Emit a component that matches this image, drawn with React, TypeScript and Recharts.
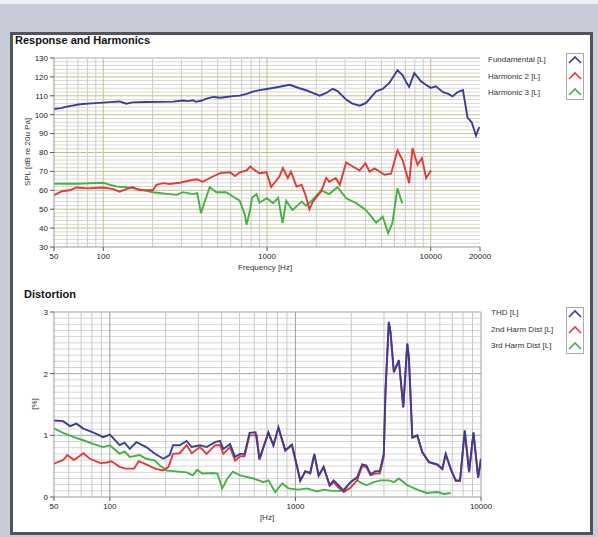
import React from 'react';
import { LineChart, Line, XAxis, YAxis, ReferenceLine } from 'recharts';

// ---------- Response and Harmonics ----------
const fundFreq = [50, 55, 60, 72, 85, 100, 115, 126, 138, 151, 180, 220, 267, 306, 330, 353, 368, 400, 427, 470, 520, 564, 620, 681, 750, 820, 900, 1000, 1150, 1375, 1580, 1750, 1900, 2097, 2300, 2520, 2700, 3045, 3300, 3680, 4030, 4300, 4640, 5090, 5585, 6265, 6730, 7100, 7385, 7940, 8720, 9300, 10000, 10750, 11900, 12800, 13570, 14610, 15730, 16800, 17800, 18900, 19800];
const fundSpl = [103, 103.5, 104.3, 105.5, 106, 106.4, 106.8, 107, 105.8, 106.5, 106.7, 106.8, 106.9, 107.5, 107.2, 107.6, 106.8, 107.5, 108.5, 109.4, 109, 109.4, 109.8, 110.1, 111, 112.2, 113, 113.6, 114.5, 115.8, 114, 112.8, 111.5, 110.1, 111.5, 113.7, 112.5, 108, 106, 104.8, 106.2, 109, 112.4, 113.6, 116.8, 123.5, 121, 117, 114.7, 122, 117.7, 116, 114.2, 115, 111.9, 111, 109.7, 112, 113, 98.3, 96, 88.9, 93.5];

const h2Freq = [50, 56, 62, 69, 80, 100, 115, 126, 138, 151, 167, 201, 211, 233, 254, 293, 337, 372, 406, 447, 516, 595, 638, 681, 750, 790, 830, 900, 994, 1060, 1190, 1250, 1340, 1400, 1515, 1630, 1730, 1815, 1905, 2140, 2300, 2400, 2630, 2780, 3045, 3340, 3680, 3990, 4230, 4540, 5230, 5720, 6265, 6730, 7385, 7740, 8300, 8840, 9370, 10050];
const h2Spl = [57.5, 59.5, 60, 61.5, 61, 61.5, 60.6, 59.3, 60.6, 61.7, 60, 60, 62.9, 63.8, 63.3, 64, 65.2, 65.8, 64.5, 66.5, 69.1, 69.5, 67.5, 69.5, 70.5, 72.6, 71, 69, 69.5, 61.7, 67.3, 71.8, 66.5, 69.9, 62, 62.9, 56.7, 50, 54, 59.3, 66.5, 64.5, 66.5, 62.9, 74.7, 72.6, 70.5, 74.3, 69.9, 71.6, 68.2, 68.8, 81.1, 76, 63.8, 82.4, 73.5, 77, 66.5, 70.5];

const h3Freq = [50, 70, 100, 109, 120, 138, 167, 201, 233, 254, 281, 306, 353, 375, 395, 420, 447, 490, 564, 622, 681, 730, 750, 790, 810, 862, 900, 1000, 1090, 1170, 1245, 1310, 1430, 1630, 1730, 1905, 2140, 2400, 2700, 3045, 3500, 4030, 4640, 5090, 5500, 5830, 6265, 6700];
const h3Spl = [63.5, 63.5, 64, 63, 62, 61.7, 60.5, 59, 58.3, 58, 57.6, 59, 58, 58.5, 47.9, 55, 61.7, 59, 59, 56.6, 54.5, 47.5, 41.7, 50, 56, 58, 53.5, 55.8, 53.2, 56, 42.6, 54.5, 49.5, 54, 51.8, 55, 60, 58, 61.7, 55.8, 53.2, 49.5, 42.9, 46, 37.3, 42.6, 61.1, 53];

const respXTicks = [50, 100, 1000, 10000, 20000];
const respYTicks = [30, 40, 50, 60, 70, 80, 90, 100, 110, 120, 130];

// ---------- Distortion ----------
const thdFreq = [50, 56, 61, 66, 72, 81, 92, 100, 113, 120, 128, 139, 157, 175, 194, 210, 219, 238, 259, 276, 306, 332, 369, 392, 409, 444, 473, 503, 532, 566, 610, 640, 715, 761, 810, 881, 957, 1018, 1062, 1130, 1202, 1264, 1334, 1419, 1529, 1607, 1710, 1820, 1978, 2150, 2288, 2415, 2538, 2699, 2849, 2992, 3058, 3186, 3255, 3392, 3609, 3812, 4005, 4087, 4264, 4535, 4828, 5240, 5820, 6190, 6455, 6866, 7308, 7710, 8175, 8626, 9110, 9650, 10000];
const thdPct = [1.24, 1.23, 1.15, 1.19, 1.11, 1.05, 0.97, 1.01, 0.84, 0.88, 0.78, 0.89, 0.81, 0.7, 0.62, 0.68, 0.84, 0.84, 0.91, 0.81, 0.84, 0.81, 0.89, 0.91, 0.78, 0.86, 0.65, 0.7, 0.7, 1.04, 1.05, 0.62, 1.05, 0.84, 1.13, 0.76, 0.85, 0.51, 0.27, 0.42, 0.39, 0.7, 0.35, 0.49, 0.19, 0.27, 0.19, 0.1, 0.24, 0.32, 0.53, 0.51, 0.37, 0.42, 0.42, 0.7, 1.73, 2.84, 2.67, 2.03, 2.22, 1.46, 2.49, 2.27, 0.97, 1.0, 0.73, 0.57, 0.53, 0.46, 0.7, 0.46, 0.27, 0.27, 1.08, 0.41, 1.05, 0.32, 0.62];

const h2dFreq = [50, 56, 59, 64, 69, 72, 78, 89, 96, 102, 113, 121, 135, 143, 157, 175, 194, 207, 219, 238, 259, 276, 306, 332, 369, 392, 409, 444, 473, 503, 532, 566, 620, 640, 715, 761, 810, 881, 957, 1018, 1062, 1130, 1202, 1264, 1334, 1419, 1529, 1607, 1710, 1820, 1978, 2150, 2288, 2415, 2538, 2699, 2849, 2992, 3058, 3186, 3255, 3392, 3609, 3812, 4005, 4087, 4264, 4535, 4828, 5240, 5820, 6190, 6455, 6866, 7308, 7710, 8175, 8626, 9110, 9650, 10000];
const h2dPct = [0.54, 0.6, 0.68, 0.6, 0.67, 0.71, 0.62, 0.55, 0.56, 0.58, 0.49, 0.46, 0.46, 0.58, 0.53, 0.46, 0.43, 0.49, 0.7, 0.71, 0.84, 0.71, 0.81, 0.7, 0.84, 0.84, 0.7, 0.81, 0.59, 0.66, 0.66, 1.0, 1.0, 0.6, 1.04, 0.83, 1.12, 0.75, 0.84, 0.5, 0.26, 0.41, 0.38, 0.69, 0.34, 0.48, 0.18, 0.24, 0.15, 0.08, 0.15, 0.27, 0.5, 0.48, 0.35, 0.38, 0.38, 0.65, 1.72, 2.83, 2.66, 2.02, 2.21, 1.45, 2.48, 2.26, 0.96, 0.99, 0.72, 0.56, 0.52, 0.45, 0.69, 0.45, 0.26, 0.26, 1.07, 0.4, 1.04, 0.31, 0.61];

const h3dFreq = [50, 56, 64, 72, 81, 92, 100, 113, 120, 128, 145, 157, 175, 186, 203, 219, 259, 280, 295, 315, 360, 380, 403, 430, 460, 503, 594, 672, 715, 778, 849, 918, 1040, 1153, 1307, 1419, 1574, 1784, 1978, 2105, 2225, 2415, 2643, 2875, 3186, 3392, 3609, 4005, 4535, 5100, 5820, 6300, 6866];
const h3dPct = [1.11, 1.04, 0.97, 0.92, 0.86, 0.81, 0.84, 0.7, 0.74, 0.65, 0.68, 0.62, 0.59, 0.51, 0.43, 0.42, 0.4, 0.35, 0.44, 0.38, 0.39, 0.38, 0.14, 0.3, 0.41, 0.35, 0.3, 0.24, 0.27, 0.08, 0.22, 0.14, 0.12, 0.14, 0.09, 0.12, 0.1, 0.1, 0.23, 0.3, 0.24, 0.19, 0.24, 0.27, 0.27, 0.24, 0.3, 0.19, 0.12, 0.065, 0.08, 0.05, 0.065];

const distXTicks = [50, 100, 1000, 10000];
const distYTicks = [0, 1, 2, 3];

// grid frequencies (log decades)
const minorFreqs = [60, 70, 80, 90, 200, 300, 400, 500, 600, 700, 800, 900, 2000, 3000, 4000, 5000, 6000, 7000, 8000, 9000];
const majorFreqs = [100, 1000, 10000];

const zip = (fs: number[], vs: number[]) => fs.map((f, i) => ({ f, v: vs[i] }));

const BLUE = '#3a3d98';
const RED = '#e23a3a';
const GREEN = '#44b344';
const FONT = '"Liberation Sans", Arial, sans-serif';
const SW = 1.9;

const tickStyle = { fontSize: 8, fill: '#222', fontFamily: FONT };

const respMinorY: number[] = [];
for (let v = 32; v < 130; v += 2) if (v % 10 !== 0) respMinorY.push(v);
const distMinorY: number[] = [];
for (let i = 1; i < 30; i++) if (i % 10 !== 0) distMinorY.push(i / 10);

const LegendIcon = ({ top }: { top: number }) => (
  <svg style={{ position: 'absolute', left: 566, top, width: 18, height: 47 }} width={18} height={47}>
    <rect x={0.5} y={0.5} width={17} height={46} fill="#fff" stroke="#aaa" />
    {[BLUE, RED, GREEN].map((c, i) => (
      <polyline key={c} points={`3,${10 + i * 16} 9,${4 + i * 16} 15,${10 + i * 16}`} fill="none" stroke={c} strokeWidth={1.6} />
    ))}
  </svg>
);

const txt = (s: string, left: number, top: number, extra: React.CSSProperties = {}) => (
  <div style={{ position: 'absolute', left, top, fontSize: 8, fontFamily: FONT, color: '#333', whiteSpace: 'nowrap', lineHeight: '10px', ...extra }}>{s}</div>
);

export default function App() {
  return (
    <div style={{ position: 'fixed', left: 0, top: 0, width: 598, height: 537, background: '#c7ccd8', overflow: 'hidden' }}>
      <div style={{ position: 'absolute', left: 0, top: 0, width: 598, height: 4, background: '#eef0f4' }} />
      <div style={{ position: 'absolute', left: 10, top: 32, width: 583, height: 503, background: '#fff', border: '3px solid #50545c', boxSizing: 'border-box' }} />

      <div style={{ position: 'absolute', left: 15, top: 34, fontSize: 11, fontWeight: 'bold', fontFamily: FONT, color: '#111', whiteSpace: 'nowrap' }}>Response and Harmonics</div>
      <div style={{ position: 'absolute', left: 24, top: 288, fontSize: 11, fontWeight: 'bold', fontFamily: FONT, color: '#111', whiteSpace: 'nowrap' }}>Distortion</div>

      <div style={{ position: 'absolute', left: 0, top: 0 }}>
        <LineChart width={598} height={280} margin={{ top: 58, right: 118, bottom: 13, left: 0 }}>
          <XAxis dataKey="f" type="number" scale="log" domain={[50, 20000]} allowDataOverflow ticks={respXTicks} interval={0} tick={tickStyle} tickSize={4} tickLine={{ stroke: '#555' }} axisLine={{ stroke: '#999' }} height={20} />
          <YAxis type="number" domain={[30, 130]} ticks={respYTicks} interval={0} tick={tickStyle} tickSize={4} tickLine={{ stroke: '#555' }} axisLine={{ stroke: '#999' }} width={54} />
          {respMinorY.map((v) => <ReferenceLine key={'hy' + v} y={v} stroke="#d8d8d0" strokeWidth={1} />)}
          {respYTicks.slice(1).map((v) => <ReferenceLine key={'HY' + v} y={v} stroke={v === 130 ? '#aaa' : '#c6c08a'} strokeWidth={1} />)}
          {minorFreqs.map((f) => <ReferenceLine key={'vx' + f} x={f} stroke="#cccccc" strokeWidth={1} />)}
          {majorFreqs.map((f) => <ReferenceLine key={'VX' + f} x={f} stroke="#c6c08a" strokeWidth={1} />)}
          <Line data={zip(h3Freq, h3Spl)} dataKey="v" type="linear" stroke={GREEN} strokeWidth={SW} dot={false} isAnimationActive={false} />
          <Line data={zip(h2Freq, h2Spl)} dataKey="v" type="linear" stroke={RED} strokeWidth={SW} dot={false} isAnimationActive={false} />
          <Line data={zip(fundFreq, fundSpl)} dataKey="v" type="linear" stroke={BLUE} strokeWidth={SW} dot={false} isAnimationActive={false} />
        </LineChart>
      </div>

      <div style={{ position: 'absolute', left: 0, top: 270 }}>
        <LineChart width={598} height={267} margin={{ top: 42, right: 117, bottom: 20, left: 0 }}>
          <XAxis dataKey="f" type="number" scale="log" domain={[50, 10000]} allowDataOverflow ticks={distXTicks} interval={0} tick={tickStyle} tickSize={4} tickLine={{ stroke: '#555' }} axisLine={{ stroke: '#999' }} height={20} />
          <YAxis type="number" domain={[0, 3]} ticks={distYTicks} interval={0} tick={tickStyle} tickSize={4} tickLine={{ stroke: '#555' }} axisLine={{ stroke: '#999' }} width={54} />
          {distMinorY.map((v) => <ReferenceLine key={'hy' + v} y={v} stroke="#d6d6d6" strokeWidth={1} />)}
          {[1, 2, 3].map((v) => <ReferenceLine key={'HY' + v} y={v} stroke="#a3a3a3" strokeWidth={1} />)}
          {minorFreqs.map((f) => <ReferenceLine key={'vx' + f} x={f} stroke="#c8c8c8" strokeWidth={1} />)}
          {majorFreqs.map((f) => <ReferenceLine key={'VX' + f} x={f} stroke="#a0a0a0" strokeWidth={1} />)}
          <Line data={zip(h3dFreq, h3dPct)} dataKey="v" type="linear" stroke={GREEN} strokeWidth={SW} dot={false} isAnimationActive={false} />
          <Line data={zip(h2dFreq, h2dPct)} dataKey="v" type="linear" stroke={RED} strokeWidth={SW} dot={false} isAnimationActive={false} />
          <Line data={zip(thdFreq, thdPct)} dataKey="v" type="linear" stroke={BLUE} strokeWidth={SW} dot={false} isAnimationActive={false} />
        </LineChart>
      </div>

      {txt('SPL [dB re 20u Pa]', 28, 152, { transform: 'translate(-50%, -50%) rotate(-90deg)' })}
      {txt('Frequency [Hz]', 265, 268, { transform: 'translate(-50%, -50%)' })}
      {txt('[%]', 35, 404, { transform: 'translate(-50%, -50%) rotate(-90deg)' })}
      {txt('[Hz]', 267, 518, { transform: 'translate(-50%, -50%)' })}

      {txt('Fundamental [L]', 488, 55)}
      {txt('Harmonic 2 [L]', 488, 72)}
      {txt('Harmonic 3 [L]', 488, 88)}
      <LegendIcon top={53} />

      {txt('THD [L]', 491, 308)}
      {txt('2nd Harm Dist [L]', 491, 325)}
      {txt('3rd Harm Dist [L]', 491, 341)}
      <LegendIcon top={307} />
    </div>
  );
}
